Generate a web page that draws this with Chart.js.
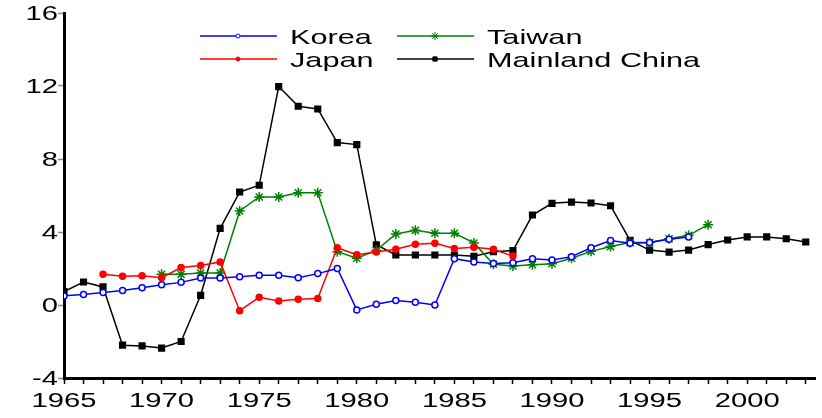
<!DOCTYPE html>
<html>
<head>
<meta charset="utf-8">
<script src="https://cdn.jsdelivr.net/npm/chart.js@4"></script>
<style>
  html, body { margin: 0; padding: 0; background: #fff; }
  #wrap { width: 822px; height: 418px; }
</style>
</head>
<body>
<div id="wrap"><canvas id="chart"></canvas></div>
<script>
const koreaYears = [1965,1966,1967,1968,1969,1970,1971,1972,1973,1974,1975,1976,1977,1978,1979,1980,1981,1982,1983,1984,1985,1986,1987,1988,1989,1990,1991,1992,1993,1994,1995,1996,1997];
const koreaValues = [0.5,0.58,0.68,0.79,0.95,1.11,1.24,1.48,1.48,1.55,1.63,1.63,1.5,1.72,2.0,-0.27,0.04,0.24,0.15,0.0,2.54,2.36,2.28,2.32,2.54,2.47,2.65,3.14,3.53,3.38,3.42,3.6,3.73];
const japanYears = [1967,1968,1969,1970,1971,1972,1973,1974,1975,1976,1977,1978,1979,1980,1981,1982,1983,1984,1985,1986,1987,1988];
const japanValues = [1.68,1.57,1.6,1.5,2.05,2.17,2.36,-0.31,0.42,0.22,0.31,0.35,3.14,2.76,2.9,3.05,3.33,3.38,3.1,3.16,3.05,2.68];
const taiwanYears = [1970,1971,1972,1973,1974,1975,1976,1977,1978,1979,1980,1981,1982,1983,1984,1985,1986,1987,1988,1989,1990,1991,1992,1993,1994,1995,1996,1997,1998];
const taiwanValues = [1.68,1.68,1.75,1.75,5.15,5.92,5.92,6.15,6.15,2.92,2.56,3.0,3.89,4.09,3.93,3.93,3.4,2.23,2.14,2.21,2.26,2.56,2.94,3.2,3.42,3.42,3.63,3.82,4.4];
const chinaYears = [1965,1966,1967,1968,1969,1970,1971,1972,1973,1974,1975,1976,1977,1978,1979,1980,1981,1982,1983,1984,1985,1986,1987,1988,1989,1990,1991,1992,1993,1994,1995,1996,1997,1998,1999,2000,2001,2002,2003];
const chinaValues = [0.73,1.26,0.99,-2.2,-2.24,-2.36,-2.0,0.53,4.2,6.19,6.56,11.97,10.89,10.74,8.9,8.79,3.3,2.74,2.74,2.74,2.74,2.67,2.92,2.98,4.93,5.57,5.64,5.59,5.44,3.54,3.01,2.9,3.01,3.31,3.56,3.73,3.73,3.63,3.45];
const yTicks = [-4, 0, 4, 8, 12, 16];
const xLabelYears = [1965, 1970, 1975, 1980, 1985, 1990, 1995, 2000];

const pts = (xs, ys) => xs.map((x, i) => ({ x: x, y: ys[i] }));
const FONT = '"Liberation Sans", Arial, sans-serif';
const STRETCH = 1.46;

// text in the original is drawn wide, so draw it stretched horizontally
function wideText(ctx, text, x, y, align) {
    const w = ctx.measureText(text).width * STRETCH;
    let left = x;
    if (align === 'center') left = x - w / 2;
    if (align === 'right') left = x - w;
    ctx.save();
    ctx.translate(left, y);
    ctx.scale(STRETCH, 1);
    ctx.textAlign = 'left';
    ctx.fillText(text, 0, 0);
    ctx.restore();
}

const textPlugin = {
    id: 'wideText',
    afterDraw(chart) {
        const ctx = chart.ctx;
        const xs = chart.scales.x, ys = chart.scales.y;
        ctx.save();
        ctx.fillStyle = '#000';
        ctx.textBaseline = 'alphabetic';
        ctx.font = '20px ' + FONT;
        xLabelYears.forEach(v => wideText(ctx, String(v), xs.getPixelForValue(v), 407, 'center'));
        ctx.font = '20px ' + FONT;
        yTicks.forEach(v => wideText(ctx, String(v), 58, ys.getPixelForValue(v) + 7, 'right'));

        // legend in two columns
        const cells = [
            { ds: 0, x: 200, y: 36 }, { ds: 2, x: 397, y: 36 },
            { ds: 1, x: 200, y: 59 }, { ds: 3, x: 397, y: 59 },
        ];
        ctx.font = '21px ' + FONT;
        cells.forEach(c => {
            const d = chart.data.datasets[c.ds];
            ctx.strokeStyle = d.borderColor;
            ctx.lineWidth = 1.5;
            ctx.beginPath();
            ctx.moveTo(c.x, c.y);
            ctx.lineTo(c.x + 77, c.y);
            ctx.stroke();
            ctx.fillStyle = d.pointBackgroundColor;
            ctx.lineWidth = 1;
            Chart.helpers.drawPoint(ctx, { pointStyle: d.pointStyle, radius: d.pointRadius - 1, borderWidth: 1 }, c.x + 38, c.y);
            ctx.fillStyle = '#000';
            wideText(ctx, d.label, c.x + 90, c.y + 8, 'left');
        });
        ctx.restore();
    },
};

new Chart(document.getElementById('chart'), {
    type: 'line',
    data: {
        datasets: [
            { label: 'Korea', data: pts(koreaYears, koreaValues), borderColor: '#0000ff', pointBackgroundColor: '#ffffff', pointBorderColor: '#0000ff', pointStyle: 'circle', pointRadius: 3, borderWidth: 1.5 },
            { label: 'Japan', data: pts(japanYears, japanValues), borderColor: '#ff0000', pointBackgroundColor: '#ff0000', pointBorderColor: '#ff0000', pointStyle: 'circle', pointRadius: 3, borderWidth: 1.5 },
            { label: 'Taiwan', data: pts(taiwanYears, taiwanValues), borderColor: '#008000', pointBackgroundColor: '#008000', pointBorderColor: '#008000', pointStyle: 'star', pointRadius: 5, borderWidth: 1.5 },
            { label: 'Mainland China', data: pts(chinaYears, chinaValues), borderColor: '#000000', pointBackgroundColor: '#000000', pointBorderColor: '#000000', pointStyle: 'rect', pointRadius: 4, borderWidth: 1.5 },
        ],
    },
    options: {
        responsive: true,
        maintainAspectRatio: false,
        animation: false,
        layout: { padding: { top: 13, right: 2, left: 0, bottom: 0 } },
        elements: { line: { tension: 0 }, point: { borderWidth: 1.2 } },
        plugins: { legend: { display: false }, tooltip: { enabled: false } },
        scales: {
            x: {
                type: 'linear',
                min: 1965,
                max: 2003.5,
                afterBuildTicks: s => { s.ticks = []; for (let y = 1965; y <= 2003; y++) s.ticks.push({ value: y }); },
                ticks: { autoSkip: false, maxRotation: 0, callback: () => '' },
                grid: { drawOnChartArea: false, color: '#000', tickLength: 6, tickWidth: 1.5 },
                border: { color: '#000', width: 3 },
                afterFit: s => { s.height = 40; },
            },
            y: {
                min: -4,
                max: 16,
                afterBuildTicks: s => { s.ticks = yTicks.map(v => ({ value: v })); },
                ticks: { callback: () => '' },
                grid: { drawOnChartArea: false, color: '#888', tickLength: 6, tickWidth: 1.5 },
                border: { color: '#000', width: 3 },
                afterFit: s => { s.width = 64; },
            },
        },
    },
    plugins: [textPlugin],
});
</script>
</body>
</html>
